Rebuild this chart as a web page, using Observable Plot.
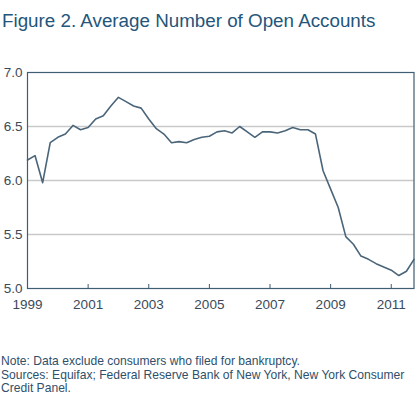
<!DOCTYPE html>
<html>
<head>
<meta charset="utf-8">
<script src="https://cdn.jsdelivr.net/npm/d3@7"></script>
<script src="https://cdn.jsdelivr.net/npm/@observablehq/plot@0.6"></script>
<style>
  html, body { margin: 0; padding: 0; background: #fff; }
  body { width: 420px; height: 396px; overflow: hidden; font-family: "Liberation Sans", Arial, sans-serif; }
  #title { height: 50px; box-sizing: border-box; padding: 12px 0 0 2px; font-size: 18.8px; line-height: 18px; color: #24557a; white-space: nowrap; }
  #chart svg { display: block; }
  #caption { margin-top: 35px; padding-left: 1px; font-size: 12.1px; line-height: 13.7px; color: #2f4f6a; white-space: nowrap; }
</style>
</head>
<body>
<div id="title">Figure 2. Average Number of Open Accounts</div>
<div id="chart"></div>
<div id="caption">Note: Data exclude consumers who filed for bankruptcy.<br>Sources: Equifax; Federal Reserve Bank of New York, New York Consumer<br>Credit Panel.</div>
<script>
// Quarterly, 1999Q1 .. 2011Q4
const startYear = 1999;
const values = [
  6.19, 6.23, 5.98, 6.35,
  6.40, 6.43, 6.51, 6.47,
  6.49, 6.57, 6.60, 6.69,
  6.77, 6.73, 6.69, 6.67,
  6.57, 6.48, 6.43, 6.35,
  6.36, 6.35, 6.38, 6.40,
  6.41, 6.45, 6.46, 6.44,
  6.50, 6.45, 6.40, 6.45,
  6.45, 6.44, 6.46, 6.49,
  6.47, 6.47, 6.43, 6.09,
  5.92, 5.75, 5.48, 5.41,
  5.30, 5.27, 5.23, 5.20,
  5.17, 5.12, 5.16, 5.27
];
const xTicks = [1999, 2001, 2003, 2005, 2007, 2009, 2011];
const yTicks = [5.0, 5.5, 6.0, 6.5, 7.0];
const gridValues = [5.5, 6.0, 6.5];

const data = values.map((v, i) => ({t: startYear + i / 4, v}));

const frameColor = "#3f5d73";
const lineColor = "#4a6579";
const textColor = "#3a4a5a";

const chart = Plot.plot({
  width: 420,
  height: 270,
  marginLeft: 27,
  marginRight: 6.5,
  marginTop: 22,
  marginBottom: 32,
  style: {fontFamily: '"Liberation Sans", Arial, sans-serif', fontSize: "13px", color: textColor, background: "#fff"},
  x: {domain: [1999, 2011.75], label: null},
  y: {domain: [5, 7], label: null},
  marks: [
    Plot.ruleY(gridValues, {stroke: "#c9c9c9", strokeWidth: 1.5}),
    Plot.ruleX(xTicks.slice(1), {stroke: frameColor, strokeWidth: 1, insetTop: 212}),
    Plot.line(data, {x: "t", y: "v", stroke: lineColor, strokeWidth: 1.6}),
    Plot.frame({stroke: frameColor, strokeWidth: 1.2}),
    Plot.axisX({ticks: xTicks, tickSize: 0, tickPadding: 11, tickFormat: d => String(d), fill: textColor, fontSize: 13.5, label: null}),
    Plot.axisY({ticks: yTicks, tickSize: 0, tickPadding: 5, tickFormat: d3.format(".1f"), fill: textColor, fontSize: 13.5, label: null})
  ]
});
document.getElementById("chart").appendChild(chart);
</script>
</body>
</html>
